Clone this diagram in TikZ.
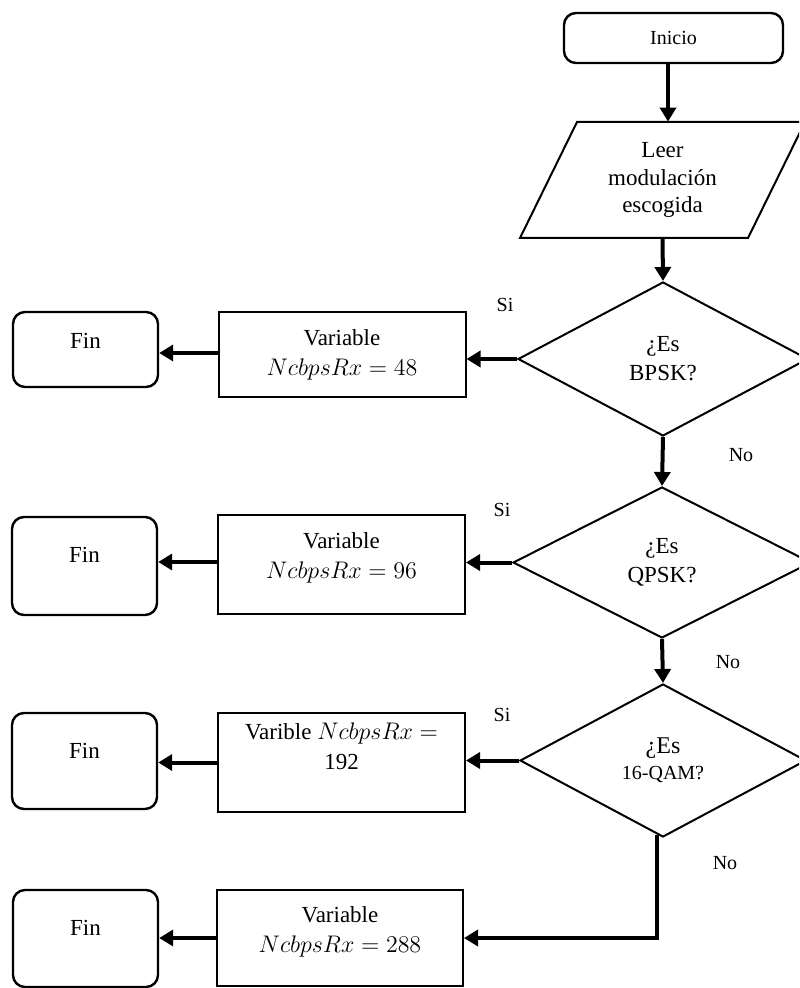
\documentclass[tikz,border=0pt]{standalone}
\usepackage{fontspec}
\setmainfont{Liberation Serif}
\usetikzlibrary{shapes.geometric,arrows.meta}

\tikzset{
  termbox/.style={draw, line width=1.2pt, rounded corners=6pt, minimum width=72.5pt, inner sep=0pt},
  procbox/.style={draw, line width=1pt, minimum width=123.5pt, inner sep=0pt},
  decision/.style={draw, diamond, line width=1pt, inner sep=0pt, align=center,
                   font=\fontsize{11.5}{14.5}\selectfont},
  txt/.style={inner sep=0pt, align=center, font=\fontsize{11.5}{15}\selectfont},
  flow/.style={line width=2pt, -{Triangle[length=7pt,width=8pt]}},
  lbl/.style={inner sep=0pt, font=\fontsize{10}{12}\selectfont}
}

\begin{document}
\begin{tikzpicture}[x=0.5pt,y=-0.5pt]
\useasboundingbox (0,0) rectangle (799,988);
\clip (0,0) rectangle (799,988);

% start and input
\node[termbox, minimum width=109.5pt, minimum height=25pt, font=\fontsize{10}{12}\selectfont]
  (inicio) at (673.5,38) {Inicio};
\draw[line width=1pt] (577,122) -- (805,122) -- (748,238) -- (520,238) -- cycle;
\node[txt, minimum width=114pt, minimum height=58pt, font=\fontsize{11.5}{13.75}\selectfont]
  (leer) at (662.5,180) {Leer\\modulación\\escogida};

% decisions
\node[decision, minimum width=145pt, minimum height=77pt] (d1) at (663,359) {¿Es\\BPSK?};
\node[decision, minimum width=149pt, minimum height=75.5pt] (d2) at (662,562.5) {¿Es\\QPSK?};
\node[decision, minimum width=143pt, minimum height=76.5pt, font=\fontsize{12}{13}\selectfont]
  (d3) at (663,760.5) {¿Es\\{\fontsize{10}{12}\selectfont 16-QAM?}};

% assignment boxes
\node[procbox, minimum height=42.5pt] (b1) at (342,354.5) {};
\node[txt] (b1t) at (342,354.5) {Variable\\$NcbpsRx = 48$};
\node[procbox, minimum height=49.5pt] (b2) at (341.5,564.5) {};
\node[txt] (b2t) at (341.5,557.5) {Variable\\$NcbpsRx = 96$};
\node[procbox, minimum height=49.5pt] (b3) at (341.5,762.5) {};
\node[txt] (b3t) at (341.5,746.5) {Varible $NcbpsRx =$\\192};
\node[procbox, minimum width=123pt, minimum height=48pt] (b4) at (340,938) {};
\node[txt] (b4t) at (340,932) {Variable\\$NcbpsRx = 288$};

% end terminals
\node[termbox, minimum height=37.5pt] (f1) at (85.5,349.5) {};
\node[txt] (f1t) at (85.5,341) {Fin};
\node[termbox, minimum height=49pt] (f2) at (84.5,566) {};
\node[txt] (f2t) at (84.5,555) {Fin};
\node[termbox, minimum height=48pt] (f3) at (84.5,761) {};
\node[txt] (f3t) at (84.5,751) {Fin};
\node[termbox, minimum height=48.5pt] (f4) at (85.5,938.5) {};
\node[txt] (f4t) at (85.5,928) {Fin};

% main column
\draw[flow] ([xshift=-2.75pt]inicio.south) -- ([xshift=-2.75pt]inicio.south |- leer.north);
\draw[flow] (leer.south) -- (d1.north);
\draw[flow] (d1.south) -- (d2.north);
\draw[flow] (d2.south) -- (d3.north);
\draw[flow] ([xshift=-3pt,yshift=1.5pt]d3.south) |- (b4.east);

% yes branches
\draw[flow] (d1.west) -- (d1.west -| b1.east);
\draw[flow] (d2.west) -- (d2.west -| b2.east);
\draw[flow] (d3.west) -- (d3.west -| b3.east);
\draw[flow] ([yshift=0.75pt]b1.west) -- ([yshift=0.75pt]b1.west -| f1.east);
\draw[flow] ([yshift=1.25pt]b2.west) -- ([yshift=1.25pt]b2.west -| f2.east);
\draw[flow] (b3.west) -- (b3.west -| f3.east);
\draw[flow] (b4.west) -- (b4.west -| f4.east);

% branch labels
\node[lbl] (si1) at (505,305) {Si};
\node[lbl] (si2) at (502,510) {Si};
\node[lbl] (si3) at (502,715) {Si};
\node[lbl] (no1) at (741,455) {No};
\node[lbl] (no2) at (728,662) {No};
\node[lbl] (no3) at (725,863) {No};
\end{tikzpicture}
\end{document}
